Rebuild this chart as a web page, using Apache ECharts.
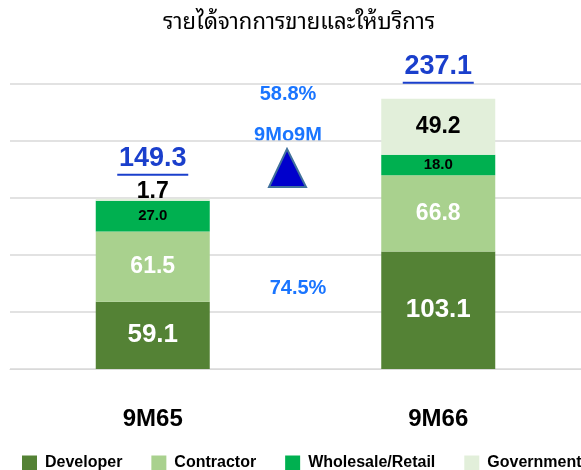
<!DOCTYPE html>
<html>
<head>
<meta charset="utf-8">
<script src="https://cdn.jsdelivr.net/npm/echarts@6/dist/echarts.min.js"></script>
<style>
  html, body { margin: 0; padding: 0; background: #fff; }
  #main { width: 581px; height: 470px; }
</style>
</head>
<body>
<div id="main"></div>
<script>
// ข้อมูลรายได้ (ล้านบาท)
var categories = ['9M65', '9M66'];
var developer = [59.1, 103.1];
var contractor = [61.5, 66.8];
var wholesale = [27.0, 18.0];
var government = [1.7, 49.2];
var totals = [149.3, 237.1];
var growthTexts = ['58.8%', '9Mo9M', '74.5%'];

var FONT = "'Liberation Sans', Arial, sans-serif";
var chart = echarts.init(document.getElementById('main'));

var option = {
  animation: false,
  title: {
    text: 'รายได้จากการขายและให้บริการ',
    left: 294,
    top: 7,
    textAlign: 'center',
    textStyle: { fontSize: 22, fontWeight: 'normal', color: '#000',
      fontFamily: "'Noto Sans Thai Looped', Tahoma, Loma, Garuda, 'Noto Serif Thai', 'Noto Sans Thai', sans-serif" }
  },
  legend: {
    data: ['Developer', 'Contractor', 'Wholesale/Retail', 'Government'],
    left: 17,
    top: 450,
    width: 800,
    itemWidth: 15,
    itemHeight: 15,
    itemGap: 29,
    icon: 'rect',
    textStyle: { fontSize: 16, fontWeight: 'bold', color: '#000', fontFamily: FONT, padding: [0, 0, 0, 3] }
  },
  grid: { left: 10, right: -2, top: 84, bottom: 101 },
  xAxis: {
    type: 'category',
    data: categories,
    axisLine: { lineStyle: { color: '#d9d9d9' } },
    axisTick: { show: false },
    axisLabel: { fontSize: 24, fontWeight: 'bold', color: '#000', fontFamily: FONT, margin: 38 }
  },
  yAxis: {
    type: 'value',
    min: 0,
    max: 250,
    interval: 50,
    axisLabel: { show: false },
    axisLine: { show: false },
    axisTick: { show: false },
    splitLine: { lineStyle: { color: '#d9d9d9', width: 1.5 } }
  },
  series: [{
    name: 'Developer',
    type: 'bar',
    stack: 'total',
    barWidth: 114,
    itemStyle: { color: '#548235' },
    label: { show: true, position: 'inside', color: '#fff', fontSize: 26, fontWeight: 'bold', fontFamily: FONT },
    data: developer
  }, {
    name: 'Contractor',
    type: 'bar',
    stack: 'total',
    itemStyle: { color: '#a9d18e' },
    label: { show: true, position: 'inside', color: '#fff', fontSize: 23, fontWeight: 'bold', fontFamily: FONT },
    data: contractor
  }, {
    name: 'Wholesale/Retail',
    type: 'bar',
    stack: 'total',
    itemStyle: { color: '#00b050' },
    label: { show: true, position: 'inside', color: '#000', fontSize: 15, fontWeight: 'bold', fontFamily: FONT,
      formatter: function (p) { return p.value.toFixed(1); } },
    data: wholesale
  }, {
    name: 'Government',
    type: 'bar',
    stack: 'total',
    itemStyle: { color: '#e2efda' },
    label: { show: true, position: 'inside', color: '#000', fontSize: 23, fontWeight: 'bold', fontFamily: FONT },
    data: government.map(function (v, i) {
      // แท่งเล็กมาก ให้ป้ายอยู่ด้านบน
      return i === 0 ? { value: v, label: { position: 'top', distance: -4 } } : v;
    })
  }, {
    // ยอดรวมบนหัวแท่ง (ขีดเส้นใต้)
    name: 'ยอดรวม',
    type: 'bar',
    barGap: '-100%',
    barWidth: 114,
    z: 5,
    silent: true,
    itemStyle: { color: 'transparent' },
    label: {
      show: true,
      position: 'top',
      fontWeight: 'bold',
      fontSize: 27,
      lineHeight: 30,
      fontFamily: FONT,
      color: '#1a3fcc',
      formatter: function (p) { return p.value.toFixed(1) + '\n{u| }'; },
      rich: {
        u: { width: 71, height: 2, lineHeight: 2, backgroundColor: '#1a3fcc', align: 'center' }
      }
    },
    data: totals.map(function (v, i) {
      return { value: v, label: { distance: i === 0 ? 23 : 15 } };
    })
  }],
  graphic: [{
    type: 'text', x: 288, y: 94,
    style: { text: growthTexts[0], fill: '#1a75ff', font: 'bold 20px ' + FONT, align: 'center', verticalAlign: 'middle', textAlign: 'center', textVerticalAlign: 'middle' }
  }, {
    type: 'text', x: 288, y: 135,
    style: { text: growthTexts[1], fill: '#1a75ff', font: 'bold 20px ' + FONT, align: 'center', verticalAlign: 'middle', textAlign: 'center', textVerticalAlign: 'middle' }
  }, {
    type: 'polygon',
    shape: { points: [[287, 149], [306, 187], [269, 187]] },
    style: { fill: '#0000cc', stroke: '#41719c', lineWidth: 2 }
  }, {
    type: 'text', x: 298, y: 288,
    style: { text: growthTexts[2], fill: '#1a75ff', font: 'bold 20px ' + FONT, align: 'center', verticalAlign: 'middle', textAlign: 'center', textVerticalAlign: 'middle' }
  }]
};

chart.setOption(option);
</script>
</body>
</html>
